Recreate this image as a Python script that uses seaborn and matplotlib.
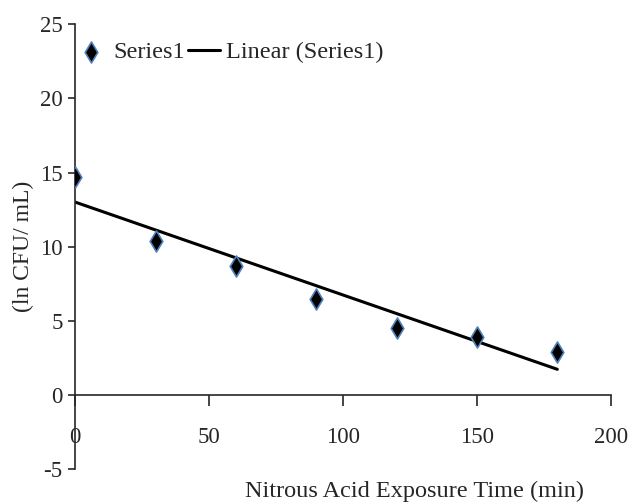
import numpy as np
import pandas as pd
import matplotlib
matplotlib.use("Agg")
import matplotlib.pyplot as plt
import seaborn as sns

# donnees
exposure_min = [0, 30, 60, 90, 120, 150, 180]
ln_cfu = [14.7, 10.4, 8.7, 6.5, 4.5, 3.9, 2.9]
x_ticks = [0, 50, 100, 150, 200]
y_ticks = [-5, 0, 5, 10, 15, 20, 25]

sns.set_style("ticks")
plt.rcParams['font.family'] = ['Liberation Serif', 'DejaVu Serif']
plt.rcParams['axes.unicode_minus'] = False

df = pd.DataFrame({'x': exposure_min, 'y': ln_cfu})
# tendance lineaire (Series1)
slope, intercept = np.polyfit(df['x'], df['y'], 1)
trend = pd.DataFrame({'x': [min(exposure_min), max(exposure_min)]})
trend['y'] = intercept + slope * trend['x']

fig = plt.figure(figsize=(6.37, 5.04), dpi=100)
ax = fig.add_axes([0.118, 0.069, 0.841, 0.883])

sns.scatterplot(data=df, x='x', y='y', marker='d', s=115, color='black',
                edgecolor='#4f81bd', linewidth=1.2, ax=ax, label='Series1', zorder=3)
sns.lineplot(data=trend, x='x', y='y', color='black', linewidth=2.2, ax=ax,
             label='Linear (Series1)')

ax.set_xlim(0, 200)
ax.set_ylim(-5, 25)
ax.set_xticks(x_ticks)
ax.set_yticks(y_ticks)
ax.spines['top'].set_visible(False)
ax.spines['right'].set_visible(False)
ax.spines['bottom'].set_position(('data', 0))
ax.spines['left'].set_linewidth(1.2)
ax.spines['bottom'].set_linewidth(1.2)
ax.tick_params(axis='y', direction='out', length=5, width=1.2, labelsize=16.5, pad=4)
ax.tick_params(axis='x', direction='out', length=8, width=1.2, labelsize=16.5, pad=15)

ax.set_xlabel('Nitrous Acid Exposure Time (min)', fontsize=17.5)
ax.xaxis.set_label_coords(0.634, -0.026)
ax.set_ylabel('(ln CFU/ mL)', fontsize=17, labelpad=4)

ax.legend(loc='upper left', bbox_to_anchor=(-0.027, 0.995), ncol=2, frameon=False,
          fontsize=17.5, handlelength=1.3, handletextpad=0.25, columnspacing=0.15,
          borderaxespad=0.2)

fig.savefig('out.png', dpi=100)
